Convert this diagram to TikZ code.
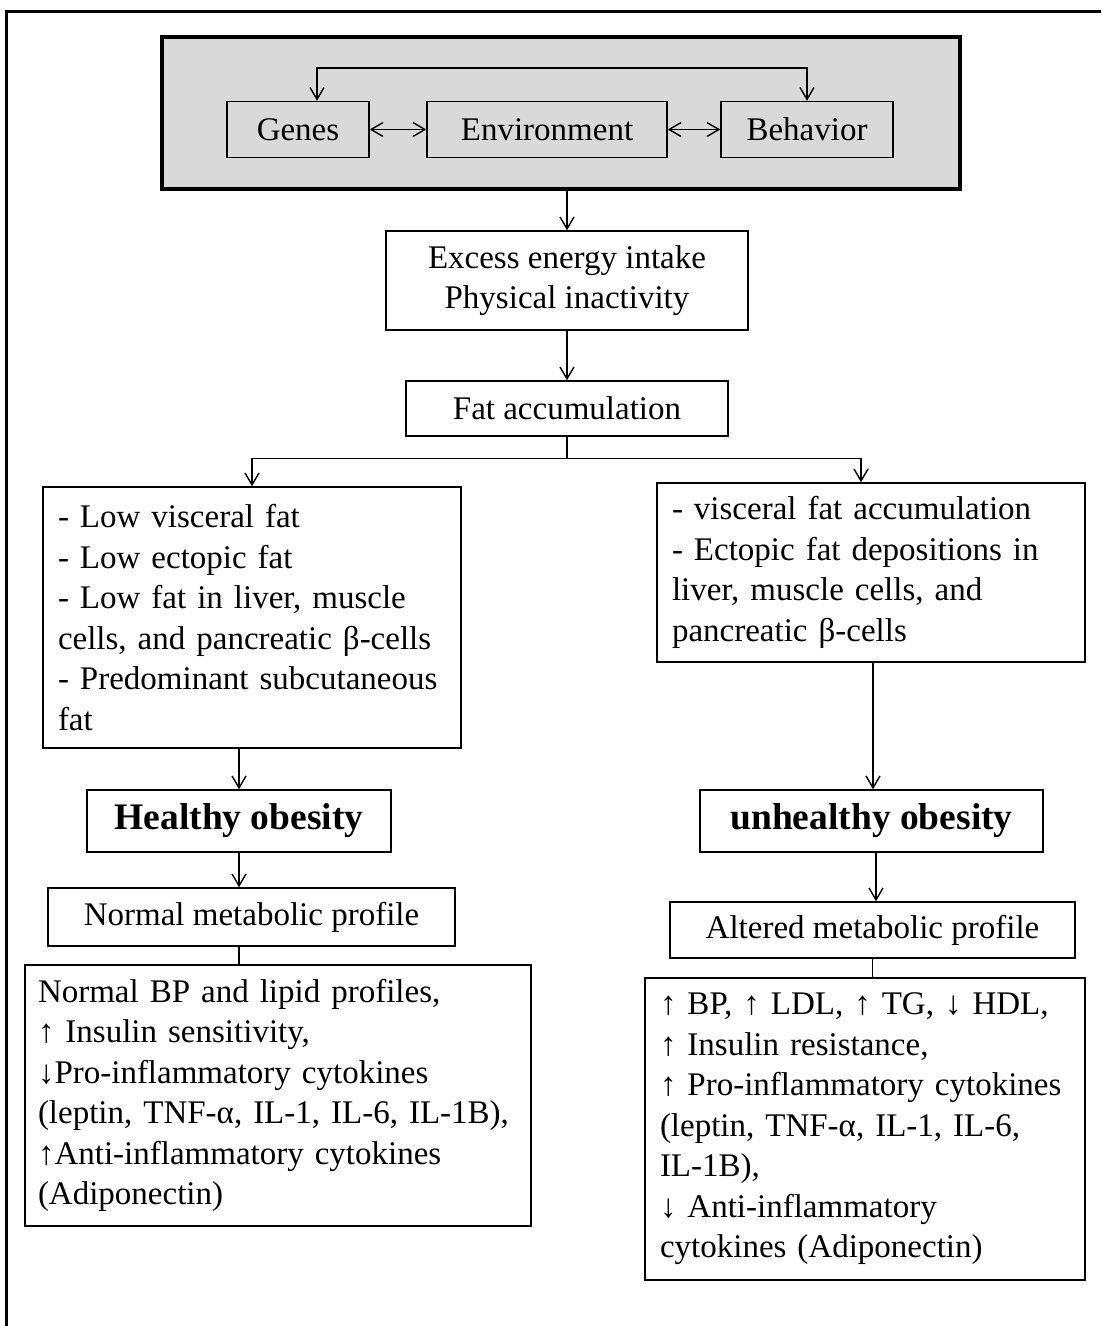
\documentclass[tikz,border=0pt]{standalone}
\usepackage{fontspec}
\setmainfont{Liberation Serif}
\usetikzlibrary{arrows.meta}
\begin{document}
\begin{tikzpicture}[x=1pt,y=1pt,
  every node/.style={font=\fontsize{33}{40.5}\selectfont},
  box/.style={draw, line width=1.4pt, inner sep=0pt, align=center},
  lbox/.style={box, align=left, inner xsep=15pt, inner ysep=0pt, text width=#1},
  bbox/.style={box, font=\fontsize{37.5}{45}\selectfont\bfseries},
  arr/.style={line width=1.4pt, -{Straight Barb[length=12pt,width=14pt]}},
  arrb/.style={line width=1.4pt, {Straight Barb[length=12pt,width=14pt]}-{Straight Barb[length=12pt,width=14pt]}},
  ln/.style={line width=1.4pt}]
\useasboundingbox (0,0) rectangle (1101,-1326);
% outer frame (cut at right and bottom)
\draw[line width=3pt] (6,-1326) -- (6,-11) -- (1101,-11);
% grey group
\node[draw, line width=4pt, fill=gray!30, minimum width=798pt, minimum height=152pt] (grp) at (561,-113) {};
\node[box, fill=gray!30, minimum width=142pt, minimum height=56pt] (genes) at (298,-129.5) {Genes};
\node[box, fill=gray!30, minimum width=240pt, minimum height=56pt] (env) at (547,-129.5) {Environment};
\node[box, fill=gray!30, minimum width=172pt, minimum height=56pt] (beh) at (807,-129.5) {Behavior};
\draw[arrb] ([xshift=19pt]genes.north) -- ++(0,33) -| (beh.north);
\draw[arrb] (genes.east) -- (env.west);
\draw[arrb] (env.east) -- (beh.west);
% chain
\node[box, minimum width=362pt, minimum height=99pt] (excess) at (567,-280.5) {Excess energy intake\\Physical inactivity};
\node[box, minimum width=322pt, minimum height=55pt] (fat) at (567,-408.5) {Fat accumulation};
\draw[arr] (grp.south -| excess.north) -- (excess.north);
\draw[arr] (excess.south) -- (fat.north);
% branches
\node[lbox=388pt, minimum height=261pt] (low) at (252,-617.5) {- Low visceral fat\\- Low ectopic fat\\- Low fat in liver, muscle\\cells, and pancreatic β-cells\\- Predominant subcutaneous\\fat};
\node[lbox=398pt, minimum height=179pt] (vis) at (871,-572.5) {- visceral fat accumulation\\- Ectopic fat depositions in\\liver, muscle cells, and\\pancreatic β-cells};
\coordinate (split) at ([yshift=-22pt]fat.south);
\draw[ln] (fat.south) -- (split);
\draw[arr] (split) -| (low.north);
\draw[arr] (split) -| ([xshift=-10pt]vis.north);
% left column
\node[bbox, minimum width=304pt, minimum height=62pt] (healthy) at (239,-821) {Healthy obesity};
\node[box, minimum width=407pt, minimum height=58pt] (normal) at (251.5,-917) {Normal metabolic profile};
\node[lbox=480pt, inner xsep=13pt, minimum height=261pt] (nbox) at (278,-1095.5) {Normal BP and lipid profiles,\\↑ Insulin sensitivity,\\↓Pro-inflammatory cytokines\\(leptin, TNF-α, IL-1, IL-6, IL-1B),\\↑Anti-inflammatory cytokines\\(Adiponectin)};
\draw[arr] (healthy.north |- low.south) -- (healthy.north);
\draw[arr] (healthy.south) -- (healthy.south |- normal.north);
\draw[ln] (healthy.south |- normal.south) -- (healthy.south |- nbox.north);
% right column
\node[bbox, minimum width=343pt, minimum height=62pt] (unhealthy) at (871.5,-821) {unhealthy obesity};
\node[box, minimum width=405pt, minimum height=56pt] (altered) at (872.5,-930) {Altered metabolic profile};
\node[lbox=410pt, minimum height=302pt] (abox) at (865,-1129) {↑ BP, ↑ LDL, ↑ TG, ↓ HDL,\\↑ Insulin resistance,\\↑ Pro-inflammatory cytokines\\(leptin, TNF-α, IL-1, IL-6,\\IL-1B),\\↓ Anti-inflammatory\\cytokines (Adiponectin)};
\draw[arr] ([xshift=1.5pt]unhealthy.north |- vis.south) -- ([xshift=1.5pt]unhealthy.north);
\draw[arr] ([xshift=4.5pt]unhealthy.south) -- ([xshift=4.5pt]unhealthy.south |- altered.north);
\draw[ln] (altered.south) -- (altered.south |- abox.north);
\end{tikzpicture}
\end{document}
